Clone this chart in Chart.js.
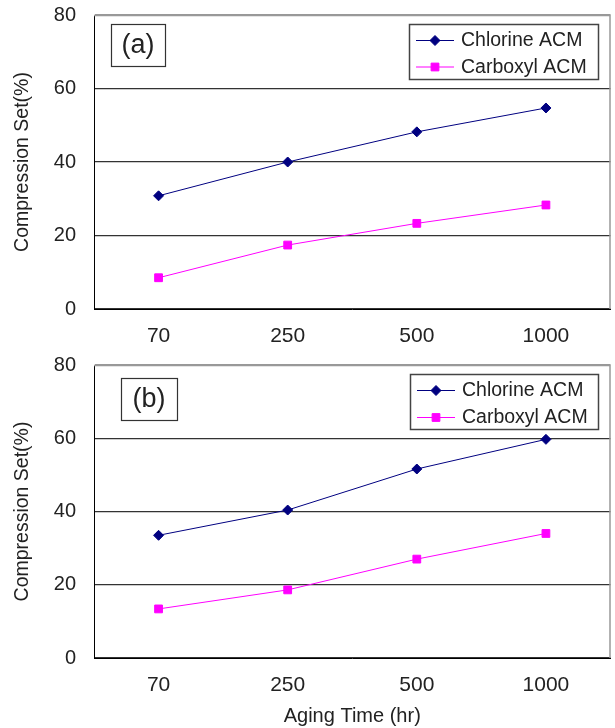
<!DOCTYPE html>
<html><head><meta charset="utf-8">
<script src="https://cdn.jsdelivr.net/npm/chart.js@4"></script>
<style>html,body{margin:0;padding:0;background:#fff;overflow:hidden;} canvas{display:block;}</style>
</head><body>
<canvas id="c1" width="617" height="350"></canvas>
<canvas id="c2" width="617" height="378"></canvas>
<script>
const categories = ['70', '250', '500', '1000'];
const yTickValues = [0, 20, 40, 60, 80];
const seriesNames = ['Chlorine ACM', 'Carboxyl ACM'];
const chlorineA = [30.8, 40.0, 48.2, 54.7];
const carboxylA = [8.5, 17.4, 23.3, 28.3];
const chlorineB = [33.5, 40.4, 51.6, 59.7];
const carboxylB = [13.4, 18.6, 27.0, 34.0];
const panelLabels = ['(a)', '(b)'];
const xTitleText = 'Aging Time (hr)';
const yTitleText = 'Compression Set(%)';

const FONT = "'Liberation Sans', Arial, sans-serif";
const TEXT = '#222';

const boxPlugin = {
  id: 'boxes',
  beforeDatasetsDraw(chart) {
    const ctx = chart.ctx, a = chart.chartArea;
    ctx.save();
    ctx.strokeStyle = '#999';
    ctx.lineWidth = 1.5;
    ctx.beginPath();
    ctx.moveTo(a.left, a.top + 0.5);
    ctx.lineTo(a.right - 0.5, a.top + 0.5);
    ctx.lineTo(a.right - 0.5, a.bottom);
    ctx.stroke();
    ctx.restore();
  },
  afterDraw(chart, args, opts) {
    const ctx = chart.ctx;
    ctx.save();
    const p = opts.panel;
    ctx.fillStyle = '#fff';
    ctx.fillRect(p.x, p.y, p.w, p.h);
    ctx.strokeStyle = '#333';
    ctx.lineWidth = 1.2;
    ctx.strokeRect(p.x + 0.5, p.y + 0.5, p.w, p.h);
    ctx.fillStyle = TEXT;
    ctx.font = '27px ' + FONT;
    ctx.textAlign = 'center';
    ctx.textBaseline = 'middle';
    ctx.fillText(p.text, p.x + p.w / 2, p.y + p.h / 2 + 1);
    const l = opts.legend;
    ctx.fillStyle = '#fff';
    ctx.fillRect(l.x, l.y, l.w, l.h);
    ctx.strokeStyle = '#444';
    ctx.lineWidth = 1.5;
    ctx.strokeRect(l.x + 0.5, l.y + 0.5, l.w, l.h);
    chart.data.datasets.forEach((ds, i) => {
      const y = l.y + l.row0 + i * l.rowGap;
      ctx.strokeStyle = ds.borderColor;
      ctx.lineWidth = 1;
      ctx.beginPath();
      ctx.moveTo(l.x + 7, y + 0.5);
      ctx.lineTo(l.x + 45, y + 0.5);
      ctx.stroke();
      ctx.fillStyle = ds.pointBackgroundColor;
      ctx.strokeStyle = ds.pointBorderColor;
      Chart.helpers.drawPoint(ctx, {pointStyle: ds.pointStyle, radius: ds.pointRadius, rotation: 0, borderWidth: 1}, l.x + 26, y + 0.5);
      ctx.fillStyle = TEXT;
      ctx.font = '19.5px ' + FONT;
      ctx.textAlign = 'left';
      ctx.textBaseline = 'middle';
      ctx.fillText(ds.label, l.x + 52, y + 1);
    });
    ctx.restore();
  }
};

function makeChart(id, chl, carb, panelText, showXTitle, axisH, panel, legend) {
  return new Chart(document.getElementById(id), {
    type: 'line',
    data: {
      labels: categories,
      datasets: [
        {label: seriesNames[0], data: chl, borderColor: '#000080', backgroundColor: '#000080',
         pointBackgroundColor: '#000080', pointBorderColor: '#000080', pointStyle: 'rectRot',
         pointRadius: 5, borderWidth: 1, tension: 0},
        {label: seriesNames[1], data: carb, borderColor: '#FF00FF', backgroundColor: '#FF00FF',
         pointBackgroundColor: '#FF00FF', pointBorderColor: '#FF00FF', pointStyle: 'rect',
         pointRadius: 5.5, borderWidth: 1, tension: 0}
      ]
    },
    options: {
      responsive: false,
      animation: false,
      events: [],
      layout: {padding: {top: 15, right: 0, left: 0, bottom: 0}},
      plugins: {
        legend: {display: false},
        tooltip: {enabled: false},
        boxes: {panel: Object.assign({text: panelText}, panel), legend: legend}
      },
      scales: {
        x: {
          type: 'category',
          offset: true,
          grid: {display: false, drawTicks: false},
          border: {display: true, color: '#000', width: 1},
          ticks: {color: TEXT, font: {family: FONT, size: 21}, padding: 15, maxRotation: 0},
          title: {display: showXTitle, text: xTitleText, color: TEXT,
                  font: {family: FONT, size: 20}, padding: {top: 0, bottom: 0}},
          afterFit(s) { s.height = axisH; s.paddingLeft = 0; s.paddingRight = 0; }
        },
        y: {
          min: 0, max: 80,
          afterBuildTicks(s) { s.ticks = yTickValues.map(v => ({value: v})); },
          grid: {drawTicks: false, color: c => c.tick && c.tick.value === 80 ? '#999' : '#333', lineWidth: 1.3},
          border: {display: true, color: '#000', width: 1},
          ticks: {color: TEXT, font: {family: FONT, size: 20}, padding: 18},
          title: {display: true, text: yTitleText, color: TEXT,
                  font: {family: FONT, size: 19.5}, padding: {top: 11, bottom: 0}},
          afterFit(s) { s.width = 94; s.paddingTop = 0; s.paddingBottom = 0; }
        }
      }
    },
    plugins: [boxPlugin]
  });
}

makeChart('c1', chlorineA, carboxylA, panelLabels[0], false, 41,
  {x: 111, y: 24, w: 54, h: 42},
  {x: 409, y: 24, w: 189, h: 55, row0: 16, rowGap: 26.5});
makeChart('c2', chlorineB, carboxylB, panelLabels[1], true, 70,
  {x: 121, y: 28, w: 56, h: 42},
  {x: 410, y: 24, w: 188, h: 55, row0: 16, rowGap: 27});
</script>
</body></html>
